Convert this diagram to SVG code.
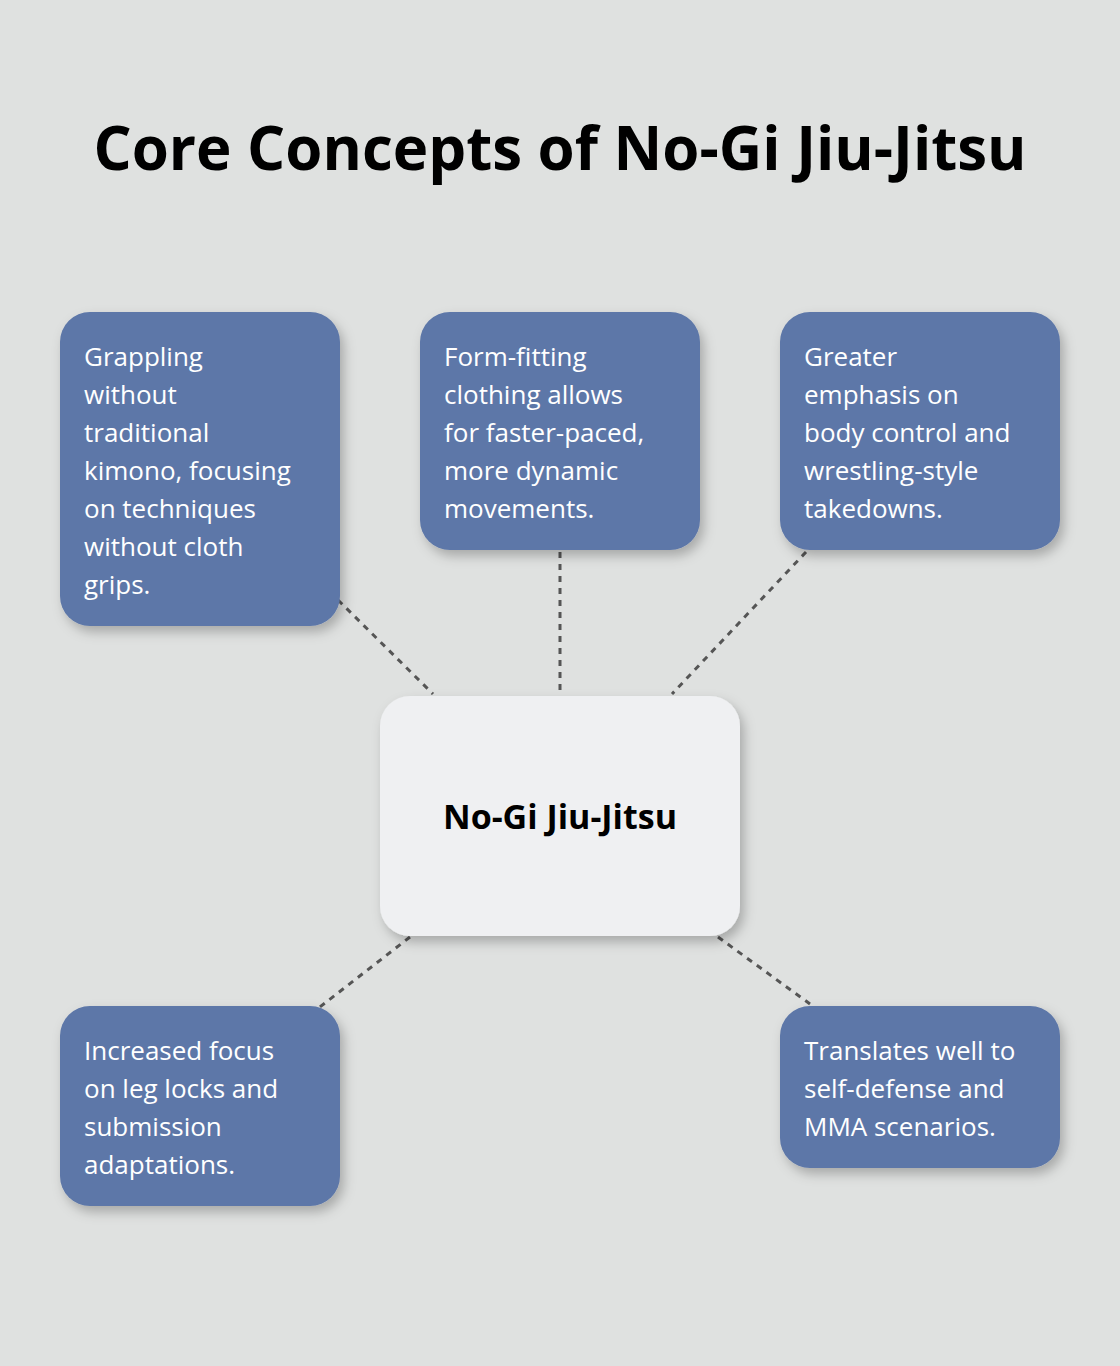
<svg xmlns="http://www.w3.org/2000/svg" width="1120" height="1366" viewBox="0 0 1120 1366">
<defs>
<filter id="sh" x="-20%" y="-20%" width="140%" height="140%"><feDropShadow dx="4" dy="6" stdDeviation="6" flood-color="#000" flood-opacity="0.25"/></filter>
<style>
.n{fill:#5d77a8;filter:url(#sh)}
.t{font-family:"Open Sans",sans-serif;font-size:26px;fill:#fff}
.c{stroke:#555;stroke-width:3;stroke-dasharray:6 6;fill:none}
</style>
</defs>
<rect width="1120" height="1366" fill="#dfe1e0"/>
<text x="560" y="170" text-anchor="middle" font-family="Open Sans,sans-serif" font-weight="bold" font-size="60" fill="#000">Core Concepts of No-Gi Jiu-Jitsu</text>
<g id="connectors">
<line class="c" x1="338" y1="600" x2="433" y2="694"/>
<line class="c" x1="560" y1="552" x2="560" y2="692"/>
<line class="c" x1="806" y1="552" x2="672" y2="694"/>
<line class="c" x1="410" y1="937" x2="316" y2="1010"/>
<line class="c" x1="718" y1="937" x2="810" y2="1004"/>
</g>
<g id="center"><rect x="380" y="696" width="360" height="240" rx="30" fill="#eff0f2" filter="url(#sh)"/>
<text x="560" y="829" text-anchor="middle" font-family="Open Sans,sans-serif" font-weight="bold" font-size="34" fill="#000">No-Gi Jiu-Jitsu</text></g>
<g id="n1"><rect class="n" x="60" y="312" width="280" height="314" rx="30"/>
<text class="t"><tspan x="84" y="366">Grappling</tspan><tspan x="84" y="404">without</tspan><tspan x="84" y="442">traditional</tspan><tspan x="84" y="480">kimono, focusing</tspan><tspan x="84" y="518">on techniques</tspan><tspan x="84" y="556">without cloth</tspan><tspan x="84" y="594">grips.</tspan></text></g>
<g id="n2"><rect class="n" x="420" y="312" width="280" height="238" rx="30"/>
<text class="t"><tspan x="444" y="366">Form-fitting</tspan><tspan x="444" y="404">clothing allows</tspan><tspan x="444" y="442">for faster-paced,</tspan><tspan x="444" y="480">more dynamic</tspan><tspan x="444" y="518">movements.</tspan></text></g>
<g id="n3"><rect class="n" x="780" y="312" width="280" height="238" rx="30"/>
<text class="t"><tspan x="804" y="366">Greater</tspan><tspan x="804" y="404">emphasis on</tspan><tspan x="804" y="442">body control and</tspan><tspan x="804" y="480">wrestling-style</tspan><tspan x="804" y="518">takedowns.</tspan></text></g>
<g id="n4"><rect class="n" x="60" y="1006" width="280" height="200" rx="30"/>
<text class="t"><tspan x="84" y="1060">Increased focus</tspan><tspan x="84" y="1098">on leg locks and</tspan><tspan x="84" y="1136">submission</tspan><tspan x="84" y="1174">adaptations.</tspan></text></g>
<g id="n5"><rect class="n" x="780" y="1006" width="280" height="162" rx="30"/>
<text class="t"><tspan x="804" y="1060">Translates well to</tspan><tspan x="804" y="1098">self-defense and</tspan><tspan x="804" y="1136">MMA scenarios.</tspan></text></g>
</svg>
